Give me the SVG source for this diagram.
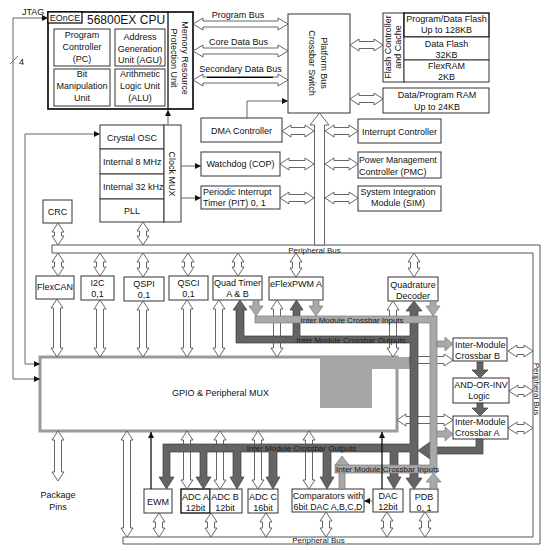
<svg xmlns="http://www.w3.org/2000/svg" width="553" height="551" viewBox="0 0 553 551">
<defs>
<style>
.box{fill:#fff;stroke:#333;stroke-width:1}
.bk{fill:#fff;stroke:#000;stroke-width:1.6}
.t{font-family:"Liberation Sans",Arial,sans-serif;font-size:9px;fill:#111}
.c{text-anchor:middle}
.ha{fill:#fff;stroke:#555;stroke-width:0.9}
.ln{fill:none;stroke:#666;stroke-width:1}
.lb{fill:none;stroke:#000;stroke-width:1.2}
.dk{fill:#646464;stroke:#3c3c3c;stroke-width:0.7}
.lt{fill:#a9a9a9;stroke:#7a7a7a;stroke-width:0.7}
.bt{font-family:"Liberation Sans",Arial,sans-serif;font-size:8px;fill:#1a1a1a}
</style>
<marker id="ah" viewBox="0 0 8 8" refX="8" refY="4" markerWidth="6" markerHeight="6" markerUnits="userSpaceOnUse" orient="auto-start-reverse"><path d="M0,0 L8,4 L0,8 Z" fill="#111"/></marker>
</defs>
<rect width="553" height="551" fill="#fff"/>

<g id="peripheral-bus">
<path d="M52,245 H540 V544 H123 V537 H533 V253 H52 Z" fill="#fff" stroke="#555" stroke-width="1"/>
<text class="bt c" x="314.5" y="252.5">Peripheral Bus</text>
<text class="bt c" x="318.5" y="543">Peripheral Bus</text>
<text class="bt c" transform="translate(534,389) rotate(90)">Peripheral Bus</text>
</g>

<g id="cpu">
<rect class="bk" x="48" y="12" width="145" height="97"/>
<line x1="168" y1="12" x2="168" y2="109" stroke="#000" stroke-width="1.2"/>
<text class="t" x="87" y="24" style="font-size:12px">56800EX CPU</text>
</g>
<g id="eonce"><rect class="bk" x="48" y="12" width="34" height="11" style="stroke-width:1.2"/><text class="t c" x="65" y="21">EOnCE</text></g>
<g id="pc"><rect class="box" x="54" y="29" width="56" height="37"/><text class="t c" x="82" y="38">Program</text><text class="t c" x="82" y="50">Controller</text><text class="t c" x="82" y="62">(PC)</text></g>
<g id="agu"><rect class="box" x="115" y="29" width="50" height="37"/><text class="t c" x="140" y="40">Address</text><text class="t c" x="140" y="52">Generation</text><text class="t c" x="140" y="63">Unit (AGU)</text></g>
<g id="bmu"><rect class="box" x="54" y="69" width="56" height="37"/><text class="t c" x="82" y="77">Bit</text><text class="t c" x="82" y="89">Manipulation</text><text class="t c" x="82" y="101">Unit</text></g>
<g id="alu"><rect class="box" x="115" y="69" width="50" height="37"/><text class="t c" x="140" y="77">Arithmetic</text><text class="t c" x="140" y="89">Logic Unit</text><text class="t c" x="140" y="101">(ALU)</text></g>
<g id="mrpu"><text class="t c" transform="translate(176,58) rotate(90)"><tspan x="0" y="-6">Memory Resource</tspan><tspan x="0" y="5.5">Protection Unit</tspan></text></g>

<g id="jtag-label"><text class="t" x="22" y="15">JTAG</text><text class="t" x="19" y="65">4</text></g>

<g id="crossbar-switch"><rect class="box" x="288" y="14" width="62" height="99"/><text class="t c" transform="translate(314,63) rotate(90)"><tspan x="0" y="-6.5">Platform Bus</tspan><tspan x="0" y="5.5">Crossbar Switch</tspan></text></g>

<g id="flash-controller"><rect class="box" x="383" y="13" width="21" height="69"/><text class="t c" transform="translate(391,47) rotate(-90)"><tspan x="0" y="0">Flash Controller</tspan><tspan x="0" y="10">and Cache</tspan></text></g>
<g id="pflash"><rect class="bk" x="404" y="13" width="85" height="24" style="stroke-width:1.3"/><text class="t c" x="446.5" y="21.5">Program/Data Flash</text><text class="t c" x="446.5" y="33">Up to 128KB</text></g>
<g id="dflash"><rect class="box" x="404" y="37" width="85" height="23"/><text class="t c" x="446.5" y="46.5">Data Flash</text><text class="t c" x="446.5" y="57.5">32KB</text></g>
<g id="flexram"><rect class="box" x="404" y="60" width="85" height="22"/><text class="t c" x="446.5" y="68.5">FlexRAM</text><text class="t c" x="446.5" y="79.5">2KB</text></g>
<g id="ram"><rect class="box" x="383" y="88" width="106" height="25"/><text class="t c" x="437" y="97.5">Data/Program RAM</text><text class="t c" x="437" y="109.5">Up to 24KB</text></g>

<g id="dma"><rect class="box" x="201" y="118" width="81" height="24"/><text class="t c" x="241.5" y="134">DMA Controller</text></g>
<g id="cop"><rect class="box" x="201" y="152" width="79" height="24"/><text class="t c" x="240.5" y="167">Watchdog (COP)</text></g>
<g id="pit"><rect class="box" x="201" y="186" width="79" height="23"/><text class="t" x="203" y="195">Periodic Interrupt</text><text class="t" x="203" y="206">Timer (PIT) 0, 1</text></g>
<g id="intc"><rect class="box" x="358" y="119" width="83" height="24"/><text class="t c" x="399.5" y="134.5">Interrupt Controller</text></g>
<g id="pmc"><rect class="box" x="358" y="152" width="83" height="26"/><text class="t" x="359" y="163" style="font-size:8.7px">Power Management</text><text class="t" x="359" y="175">Controller (PMC)</text></g>
<g id="sim"><rect class="box" x="358" y="186" width="83" height="25"/><text class="t c" x="398" y="194.5">System Integration</text><text class="t c" x="398" y="206">Module (SIM)</text></g>

<g id="crystal"><rect class="box" x="100" y="125" width="64" height="24"/><text class="t c" x="132" y="140.5">Crystal OSC</text></g>
<g id="int8"><rect class="box" x="100" y="149" width="64" height="25"/><text class="t" x="103" y="165">Internal 8 MHz</text></g>
<g id="int32"><rect class="box" x="100" y="174" width="64" height="25"/><text class="t" x="103" y="190">Internal 32 kHz</text></g>
<g id="pll"><rect class="box" x="100" y="199" width="64" height="23"/><text class="t c" x="132" y="214">PLL</text></g>
<g id="clock-mux"><rect class="box" x="164" y="125" width="17" height="97"/><text class="t c" transform="translate(168.5,174) rotate(90)">Clock MUX</text></g>
<g id="crc"><rect class="box" x="43" y="200" width="29" height="23"/><text class="t c" x="57.5" y="214.5">CRC</text></g>

<g id="flexcan"><rect class="box" x="36" y="276" width="38" height="23"/><text class="t c" x="55" y="290">FlexCAN</text></g>
<g id="i2c"><rect class="box" x="81" y="276" width="33" height="24"/><text class="t c" x="97.5" y="285.5">I2C</text><text class="t c" x="97.5" y="296.5">0,1</text></g>
<g id="qspi"><rect class="box" x="124" y="277" width="40" height="24"/><text class="t c" x="144" y="286.5">QSPI</text><text class="t c" x="144" y="297.5">0,1</text></g>
<g id="qsci"><rect class="box" x="169" y="276" width="39" height="24"/><text class="t c" x="188.5" y="285.5">QSCI</text><text class="t c" x="188.5" y="296.5">0,1</text></g>
<g id="quad-timer"><rect class="box" x="213" y="276" width="49" height="24"/><text class="t c" x="237.5" y="285.5">Quad Timer</text><text class="t c" x="237.5" y="296.5">A &amp; B</text></g>
<g id="eflexpwm"><rect class="box" x="269" y="277" width="54" height="23"/><text class="t c" x="296" y="286.5">eFlexPWM A</text></g>
<g id="quad-decoder"><rect class="box" x="388" y="277" width="50" height="24"/><text class="t c" x="413" y="287.5">Quadrature</text><text class="t c" x="413" y="298.5">Decoder</text></g>

<g id="gpio"><rect x="40" y="357" width="357" height="74" fill="#fff" stroke="#9a9a9a" stroke-width="3"/><path d="M320,357 H410 V369 H372 V408 H320 Z" fill="#a6a6a6"/><text class="t" x="172" y="396">GPIO &amp; Peripheral MUX</text></g>

<g id="xbar-b"><rect class="box" x="453" y="338" width="54" height="23"/><text class="t" x="455" y="348">Inter-Module</text><text class="t" x="455" y="359">Crossbar B</text></g>
<g id="aoi"><rect class="box" x="453" y="378" width="56" height="25"/><text class="t c" x="481" y="388">AND-OR-INV</text><text class="t c" x="479" y="399">Logic</text></g>
<g id="xbar-a"><rect class="box" x="453" y="416" width="55" height="23"/><text class="t" x="455" y="425">Inter-Module</text><text class="t" x="455" y="436">Crossbar A</text></g>

<g id="package-pins"><text class="t c" x="58" y="498">Package</text><text class="t c" x="58" y="510">Pins</text></g>
<g id="ewm"><rect class="box" x="144" y="489" width="28" height="24"/><text class="t c" x="158" y="505">EWM</text></g>
<g id="adc-a"><rect class="bk" x="181" y="489" width="29" height="24" style="stroke-width:1.3"/><text class="t c" x="195.5" y="500">ADC A</text><text class="t c" x="195.5" y="511">12bit</text></g>
<g id="adc-b"><rect class="box" x="210" y="489" width="32" height="24"/><text class="t c" x="225" y="500">ADC B</text><text class="t c" x="225" y="511">12bit</text></g>
<g id="adc-c"><rect class="box" x="248" y="489" width="30" height="24"/><text class="t c" x="263" y="500">ADC C</text><text class="t c" x="263" y="511">16bit</text></g>
<g id="comparators"><rect class="box" x="292" y="489" width="72" height="23"/><text class="t c" x="328" y="498.5">Comparators with</text><text class="t c" x="328" y="510" style="font-size:8.8px">6bit DAC A,B,C,D</text></g>
<g id="dac"><rect class="box" x="373" y="489" width="30" height="23"/><text class="t c" x="388" y="498.5">DAC</text><text class="t c" x="388" y="510">12bit</text></g>
<g id="pdb"><rect class="box" x="410" y="489" width="28" height="23"/><text class="t c" x="424" y="500">PDB</text><text class="t c" x="424" y="511">0, 1</text></g>

<g id="connectors">
<g id="bus-arrows">
<path class="ha" d="M193,24 l10,-6 v3 H278 v-3 l10,6 l-10,6 v-3 H203 v3 z"/>
<path class="ha" d="M193,51 l10,-6 v3 H278 v-3 l10,6 l-10,6 v-3 H203 v3 z"/>
<path class="ha" d="M193,80 l10,-6 v3 H278 v-3 l10,6 l-10,6 v-3 H203 v3 z"/>
<line x1="207" y1="77.3" x2="273" y2="77.3" stroke="#000" stroke-width="1.3"/>
<text class="t c" x="238" y="17.5">Program Bus</text>
<text class="t c" x="238.5" y="44.5">Core Data Bus</text>
<text class="t c" x="240.5" y="72">Secondary Data Bus</text>
<path class="ha" d="M350,45 l9,-6 v2.5 H374 v-2.5 l9,6 l-9,6 v-2.5 H359 v2.5 z"/>
<path class="ha" d="M350,99 l9,-6 v2.5 H374 v-2.5 l9,6 l-9,6 v-2.5 H359 v2.5 z"/>
<path class="ha" d="M319.5,113 L329,125 H324.5 V245 H314.5 V125 H310 Z"/>
<path class="ha" d="M282,131 l9,-6 v2.5 H305 v-2.5 l9,6 l-9,6 v-2.5 H291 v2.5 z"/>
<path class="ha" d="M280,164 l9,-6 v2.5 H305 v-2.5 l9,6 l-9,6 v-2.5 H289 v2.5 z"/>
<path class="ha" d="M280,198 l9,-6 v2.5 H305 v-2.5 l9,6 l-9,6 v-2.5 H289 v2.5 z"/>
<path class="ha" d="M325,131 l9,-6 v2.5 H349 v-2.5 l9,6 l-9,6 v-2.5 H334 v2.5 z"/>
<path class="ha" d="M325,164 l9,-6 v2.5 H349 v-2.5 l9,6 l-9,6 v-2.5 H334 v2.5 z"/>
<path class="ha" d="M325,198 l9,-6 v2.5 H349 v-2.5 l9,6 l-9,6 v-2.5 H334 v2.5 z"/>
<path class="ha" d="M58,223 l6,9 h-2.5 V236 h2.5 l-6,9 l-6,-9 h2.5 V232 h-2.5 z"/>
<path class="ha" d="M143,222 l6,9 h-2.5 V236 h2.5 l-6,9 l-6,-9 h2.5 V231 h-2.5 z"/>
<path class="ha" d="M58,253 l6,9 h-2.5 V267 h2.5 l-6,9 l-6,-9 h2.5 V262 h-2.5 z"/>
<path class="ha" d="M100,253 l6,9 h-2.5 V267 h2.5 l-6,9 l-6,-9 h2.5 V262 h-2.5 z"/>
<path class="ha" d="M143,253 l6,9 h-2.5 V268 h2.5 l-6,9 l-6,-9 h2.5 V262 h-2.5 z"/>
<path class="ha" d="M188,253 l6,9 h-2.5 V267 h2.5 l-6,9 l-6,-9 h2.5 V262 h-2.5 z"/>
<path class="ha" d="M238,253 l6,9 h-2.5 V267 h2.5 l-6,9 l-6,-9 h2.5 V262 h-2.5 z"/>
<path class="ha" d="M296,253 l6,9 h-2.5 V268 h2.5 l-6,9 l-6,-9 h2.5 V262 h-2.5 z"/>
<path class="ha" d="M414,253 l6,9 h-2.5 V268 h2.5 l-6,9 l-6,-9 h2.5 V262 h-2.5 z"/>
<path class="ha" d="M57,299 l6,9 h-2.5 V348 h2.5 l-6,9 l-6,-9 h2.5 V308 h-2.5 z"/>
<path class="ha" d="M100,300 l6,9 h-2.5 V348 h2.5 l-6,9 l-6,-9 h2.5 V309 h-2.5 z"/>
<path class="ha" d="M143,301 l6,9 h-2.5 V348 h2.5 l-6,9 l-6,-9 h2.5 V310 h-2.5 z"/>
<path class="ha" d="M187,300 l6,9 h-2.5 V348 h2.5 l-6,9 l-6,-9 h2.5 V309 h-2.5 z"/>
<path class="ha" d="M219,300 l6,9 h-2.5 V348 h2.5 l-6,9 l-6,-9 h2.5 V309 h-2.5 z"/>
<path class="ha" d="M277,300 l6,9 h-2.5 V348 h2.5 l-6,9 l-6,-9 h2.5 V309 h-2.5 z"/>
<path class="ha" d="M393,301 l6,9 h-2.5 V348 h2.5 l-6,9 l-6,-9 h2.5 V310 h-2.5 z"/>
<path class="ha" d="M58,431 l6,9 h-2.5 V472 h2.5 l-6,9 l-6,-9 h2.5 V440 h-2.5 z"/>
<path class="ha" d="M127,431 l6,9 h-2.5 V528 h2.5 l-6,9 l-6,-9 h2.5 V440 h-2.5 z"/>
<path class="ha" d="M187,431 l6,9 h-2.5 V480 h2.5 l-6,9 l-6,-9 h2.5 V440 h-2.5 z"/>
<path class="ha" d="M220,431 l6,9 h-2.5 V480 h2.5 l-6,9 l-6,-9 h2.5 V440 h-2.5 z"/>
<path class="ha" d="M258,431 l6,9 h-2.5 V480 h2.5 l-6,9 l-6,-9 h2.5 V440 h-2.5 z"/>
<path class="ha" d="M309,431 l6,9 h-2.5 V480 h2.5 l-6,9 l-6,-9 h2.5 V440 h-2.5 z"/>
<path class="ha" d="M159,513 l6,9 h-2.5 V528 h2.5 l-6,9 l-6,-9 h2.5 V522 h-2.5 z"/>
<path class="ha" d="M211,513 l6,9 h-2.5 V528 h2.5 l-6,9 l-6,-9 h2.5 V522 h-2.5 z"/>
<path class="ha" d="M266,513 l6,9 h-2.5 V528 h2.5 l-6,9 l-6,-9 h2.5 V522 h-2.5 z"/>
<path class="ha" d="M326,512 l6,9 h-2.5 V528 h2.5 l-6,9 l-6,-9 h2.5 V521 h-2.5 z"/>
<path class="ha" d="M387,512 l6,9 h-2.5 V528 h2.5 l-6,9 l-6,-9 h2.5 V521 h-2.5 z"/>
<path class="ha" d="M425,512 l6,9 h-2.5 V528 h2.5 l-6,9 l-6,-9 h2.5 V521 h-2.5 z"/>
<path class="ha" d="M508,351 l9,-6 v2.5 H524 v-2.5 l9,6 l-9,6 v-2.5 H517 v2.5 z"/>
<path class="ha" d="M509,391 l9,-6 v2.5 H524 v-2.5 l9,6 l-9,6 v-2.5 H518 v2.5 z"/>
<path class="ha" d="M508,428 l9,-6 v2.5 H524 v-2.5 l9,6 l-9,6 v-2.5 H517 v2.5 z"/>
<path class="ha" d="M397,420 l9,-6 v2.5 H444 v-2.5 l9,6 l-9,6 v-2.5 H406 v2.5 z"/>
<path class="ha" d="M410,356.5 H444 V354 L453,360 L444,366 V363.5 H410 Z"/>
</g>
<g id="crossbar-outputs">
<path class="dk" d="M236,310 H233 L240,300 L247,310 H244 V336 H293 V310 H290 L296.5,300 L303,310 H300 V336 H410 V311 H406 L414,301 L422,311 H418 V478 H422 L414,489 L406,478 H410 V452 H398 V477 H401 L394,489 L387,477 H390 V452 H331 V477 H334 L327,489 L320,477 H323 V452 H277 V477 H280 L273,489 L266,477 H269 V452 H241 V477 H244 L237,489 L230,477 H233 V452 H207 V477 H211 L203.5,489 L196,477 H200 V452 H170 V477 H174 L166.5,489 L159,477 H163 V444 H410 V343 H236 Z"/>
<path class="dk" d="M483,439 V454 H430 V459 L418,450.5 L430,442 V447 H476 V439 Z"/>
<path class="dk" d="M477,362 H483 V370 H488 L480,378 L472,370 H477 Z"/>
<path class="dk" d="M477,403 H483 V408 H488 L480,416 L472,408 H477 Z"/>
</g>
<g id="crossbar-inputs">
<path class="lt" d="M253,300 H259 V306 H263 L256,316 L249,306 H253 Z"/>
<path class="lt" d="M313,300 H319 V306 H323 L316,316 L309,306 H313 Z"/>
<path class="lt" d="M430,301 H436 V306 H440 L433,316 L426,306 H430 Z"/>
<path class="lt" d="M339,489 V465 H335 L342,456 L349,465 H345 V489 Z"/>
<path class="lt" d="M255,316 H437 V473 H335 V465 H430 V323 H255 Z"/>
<path class="lt" d="M437,341 H445 V337 L453,344 L445,351 V347 H437 Z"/>
<path class="lt" d="M437,431 H445 V427 L453,434 L445,441 V437 H437 Z"/>
<path class="lt" d="M430,489 V482 H426 L433.5,473 L441,482 H437 V489 Z"/>
</g>
<g id="crossbar-labels">
<text class="bt c" x="352" y="322.5">Inter Module Crossbar Inputs</text>
<text class="bt c" x="351" y="342.5">Inter Module Crossbar Outputs</text>
<text class="bt c" x="301.5" y="451">Inter Module Crossbar Outputs</text>
<text class="bt" x="336" y="472">Inter Module Crossbar Inputs</text>
</g>
<g id="signal-lines">
<path class="ln" d="M40,379 H13 V18 H48" marker-start="url(#ah)" marker-end="url(#ah)"/>
<line class="ln" x1="10" y1="64" x2="18" y2="56"/>
<path class="ln" d="M40,364 H25 V134 H100" marker-start="url(#ah)" marker-end="url(#ah)"/>
<path class="ln" d="M247,118 V101 H288" marker-end="url(#ah)"/>
<path class="ln" d="M168,125 V110" marker-end="url(#ah)"/>
<path class="ln" d="M181,166 H201" marker-end="url(#ah)"/>
<path class="ln" d="M181,198 H201" marker-end="url(#ah)"/>
<path class="lb" d="M151,489 V432" marker-end="url(#ah)"/>
<path class="lb" d="M382,489 V432" marker-end="url(#ah)"/>
<path class="ln" d="M373,501 H364" marker-end="url(#ah)"/>
</g>
</g>
</svg>
